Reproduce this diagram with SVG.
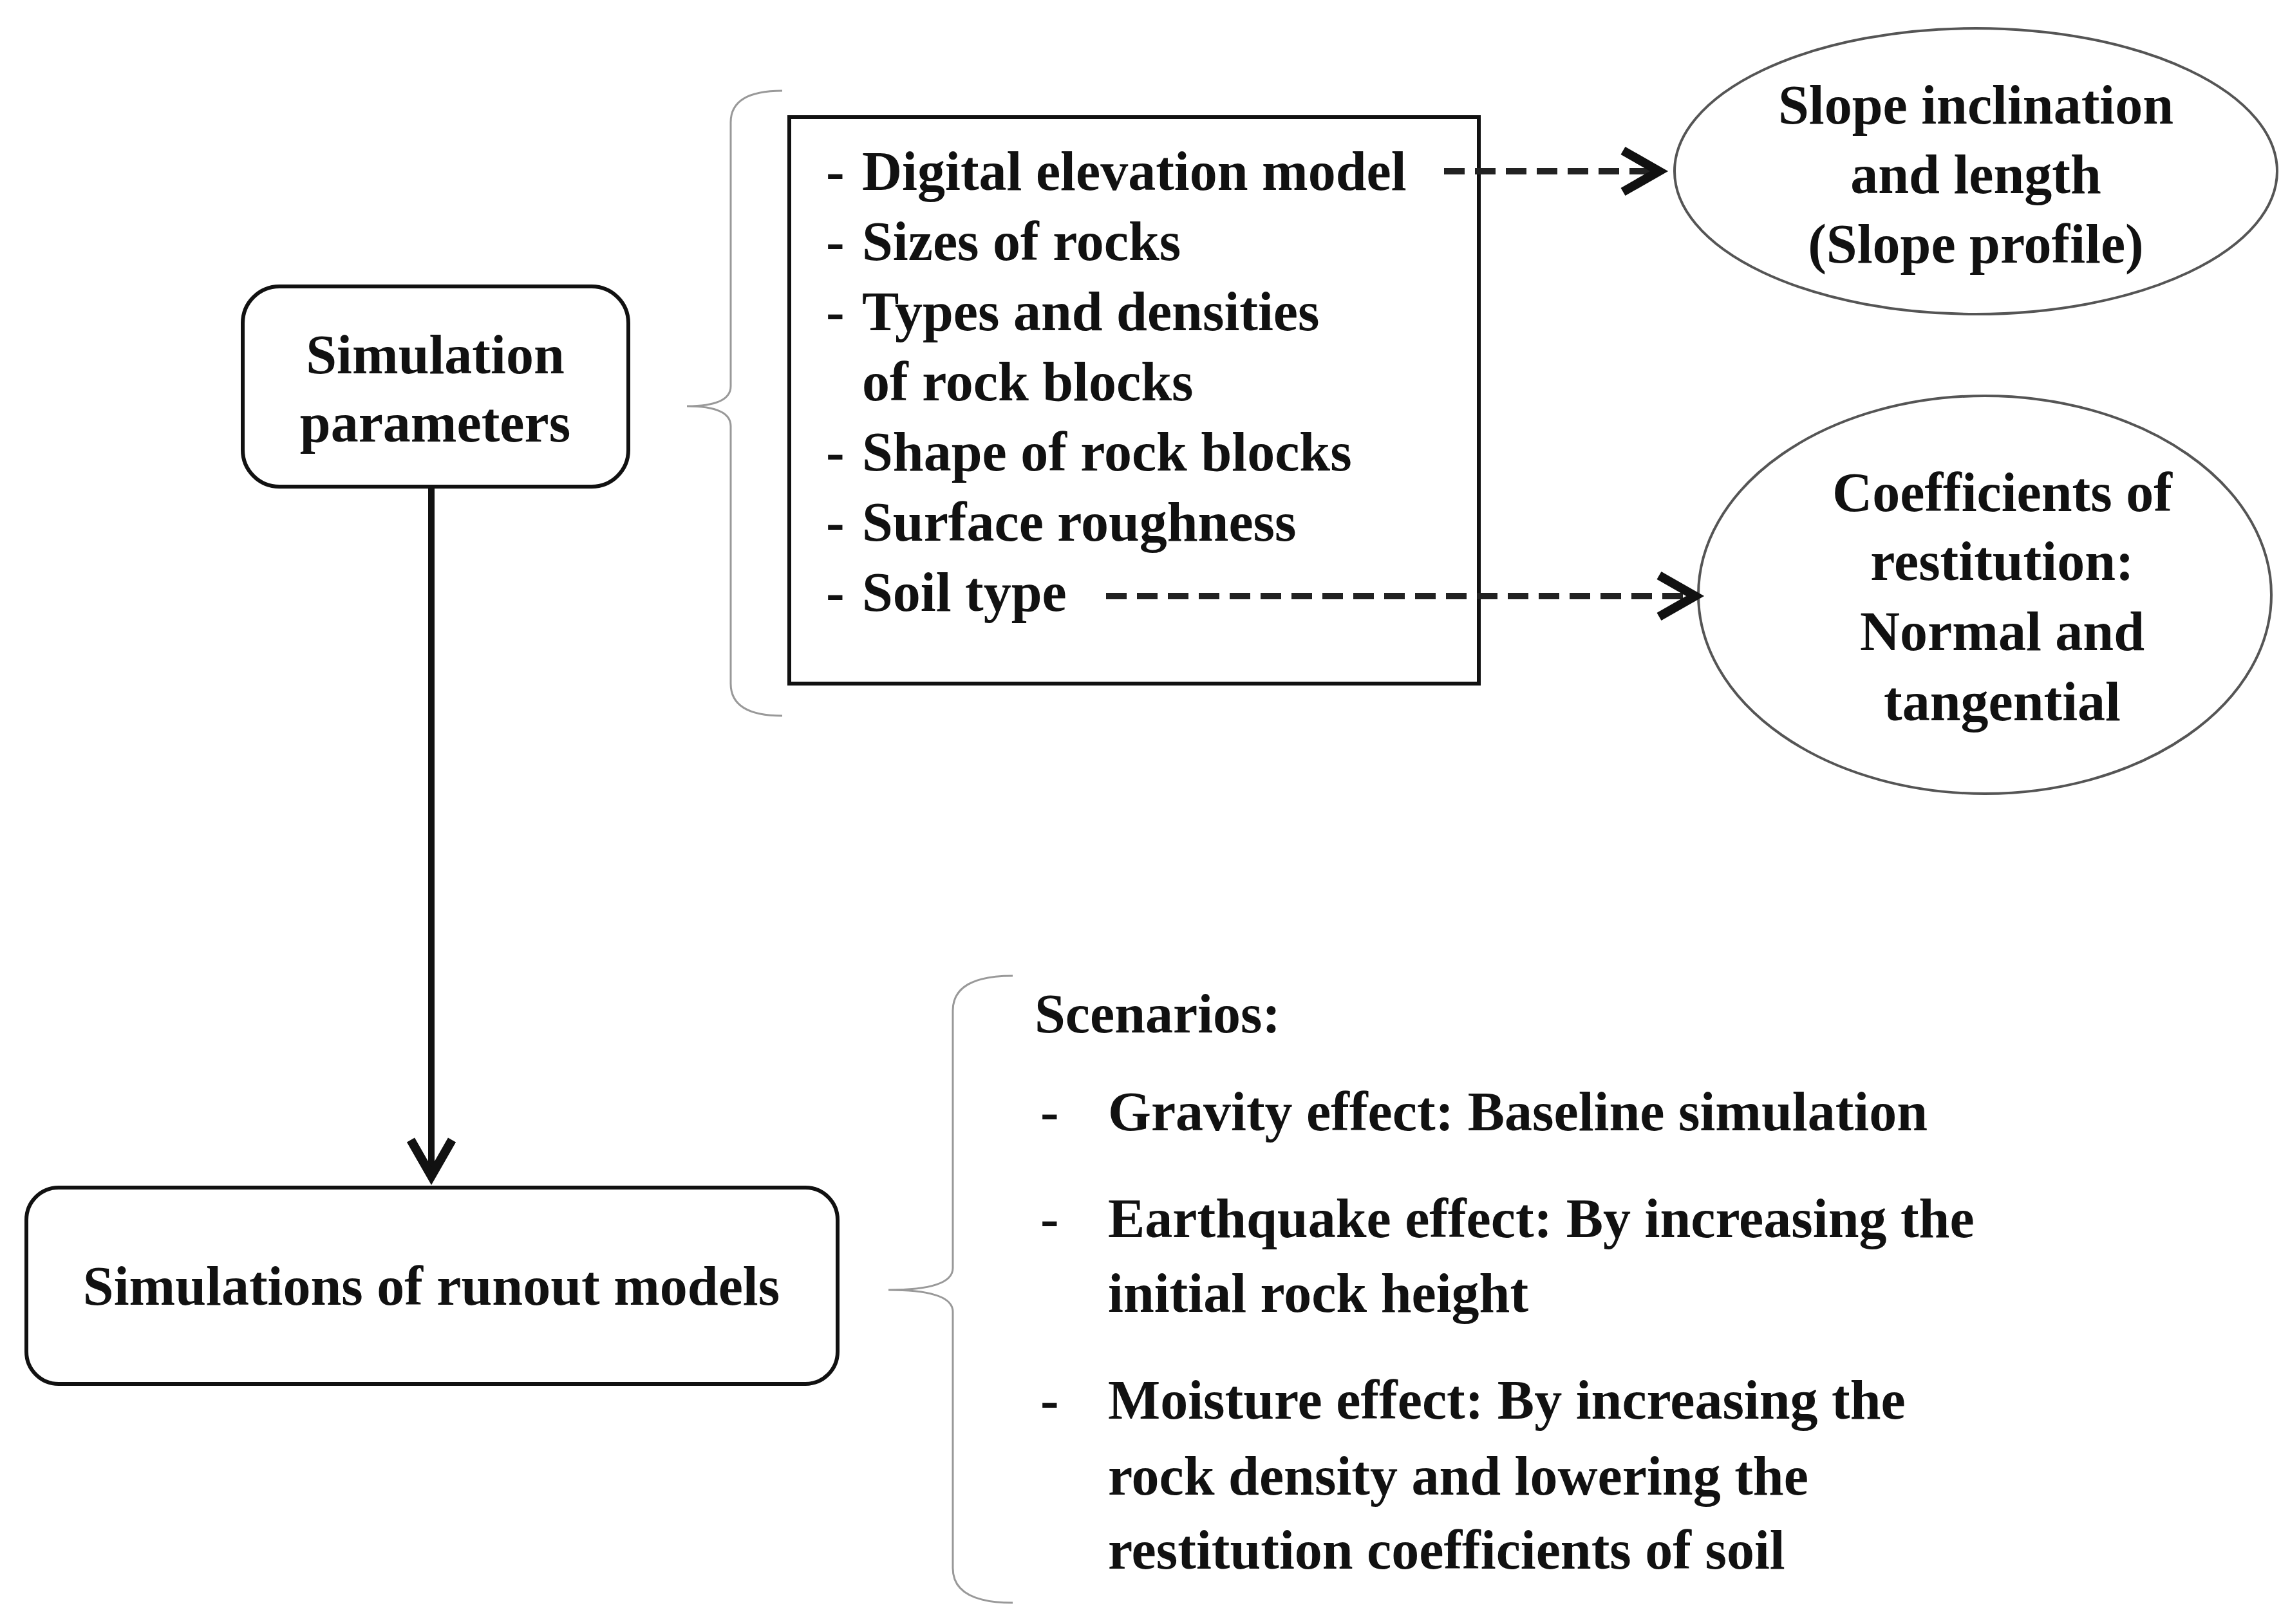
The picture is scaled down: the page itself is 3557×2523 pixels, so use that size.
<svg xmlns="http://www.w3.org/2000/svg" width="3557" height="2523" viewBox="0 0 3557 2523">
<defs>
<style>
text{font-family:"Liberation Serif","Times New Roman",serif;font-weight:bold;font-size:86px;fill:#111}
.c{text-anchor:middle}
.box{fill:#fff;stroke:#111;stroke-width:6}
.el{fill:#fff;stroke:#555;stroke-width:4}
.br{fill:none;stroke:#999;stroke-width:3}
.dash{stroke:#222;stroke-width:10;stroke-dasharray:32 16;fill:none}
</style>
<marker id="ah2" viewBox="0 0 20 20" refX="17" refY="10" markerWidth="8" markerHeight="8" orient="auto" style="overflow:visible">
<path d="M3,2 L17,10 L3,18" fill="none" stroke="#111" stroke-width="3.5"/>
</marker>
</defs>
<rect width="3557" height="2523" fill="#fff"/>
<g id="sim-params">
<rect class="box" x="377" y="445" width="599" height="311" rx="57"/>
<text class="c" x="676" y="580">Simulation</text>
<text class="c" x="676" y="686">parameters</text>
</g>
<g id="brace1"><path class="br" d="M1215,141 Q1135,141 1135,190 L1135,600 Q1135,631 1067,631 Q1135,631 1135,662 L1135,1062 Q1135,1112 1215,1112"/></g>
<g id="param-list">
<rect class="box" x="1226" y="182" width="1071" height="880"/>
<text x="1283" y="295">- </text><text x="1339" y="295">Digital elevation model</text>
<text x="1283" y="404">- </text><text x="1339" y="404">Sizes of rocks</text>
<text x="1283" y="513">- </text><text x="1339" y="513">Types and densities</text>
<text x="1339" y="622">of rock blocks</text>
<text x="1283" y="731">- </text><text x="1339" y="731">Shape of rock blocks</text>
<text x="1283" y="840">- </text><text x="1339" y="840">Surface roughness</text>
<text x="1283" y="949">- </text><text x="1339" y="949">Soil type</text>
</g>
<g id="slope">
<ellipse class="el" cx="3069" cy="266" rx="468" ry="222"/>
<text class="c" x="3069" y="192">Slope inclination</text>
<text class="c" x="3069" y="300">and length</text>
<text class="c" x="3069" y="408">(Slope profile)</text>
</g>
<g id="coeff">
<ellipse class="el" cx="3083" cy="924" rx="445" ry="309"/>
<text class="c" x="3110" y="794">Coefficients of</text>
<text class="c" x="3110" y="901">restitution:</text>
<text class="c" x="3110" y="1010">Normal and</text>
<text class="c" x="3110" y="1119">tangential</text>
</g>
<g id="runout">
<rect class="box" x="41" y="1845" width="1260" height="305" rx="50"/>
<text class="c" x="670" y="2027">Simulations of runout models</text>
</g>
<g id="brace2"><path class="br" d="M1573,1516 Q1480,1516 1480,1570 L1480,1970 Q1480,2004 1380,2004 Q1480,2004 1480,2038 L1480,2436 Q1480,2490 1573,2490"/></g>
<g id="scenarios">
<text x="1607" y="1604">Scenarios:</text>
<text x="1616" y="1756">-</text><text x="1721" y="1756">Gravity effect: Baseline simulation</text>
<text x="1616" y="1922">-</text><text x="1721" y="1922">Earthquake effect: By increasing the</text>
<text x="1721" y="2038">initial rock height</text>
<text x="1616" y="2204">-</text><text x="1721" y="2204">Moisture effect: By increasing the</text>
<text x="1721" y="2322">rock density and lowering the</text>
<text x="1721" y="2437">restitution coefficients of soil</text>
</g>
<g id="connectors">
<line x1="670" y1="756" x2="670" y2="1827" stroke="#111" stroke-width="10" marker-end="url(#ah2)"/>
<line class="dash" x1="2243" y1="266" x2="2577" y2="266" marker-end="url(#ah2)"/>
<line class="dash" x1="1718" y1="926" x2="2633" y2="926" marker-end="url(#ah2)"/>
</g>
</svg>
